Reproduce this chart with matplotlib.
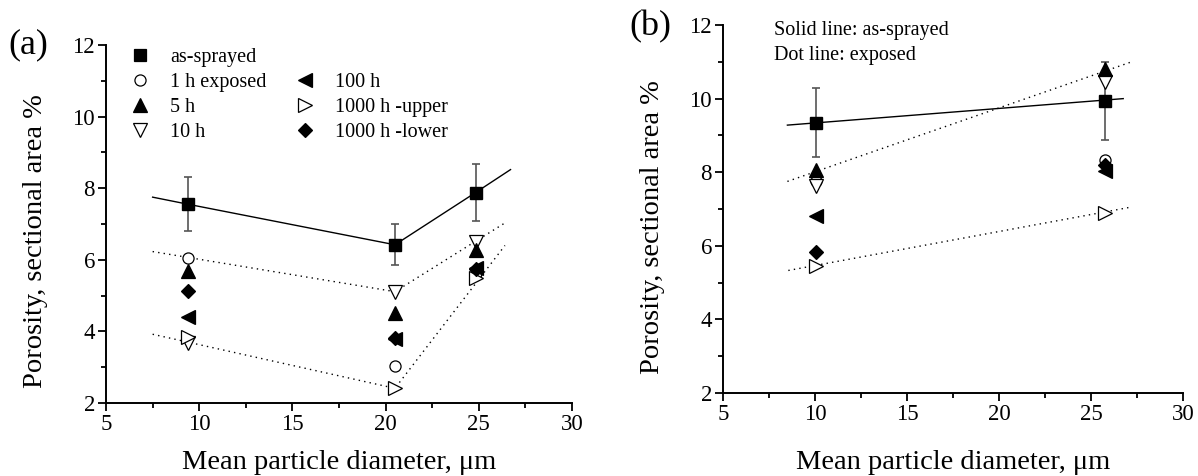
import matplotlib
matplotlib.use("Agg")
import matplotlib.pyplot as plt
from matplotlib.lines import Line2D

plt.rcParams['font.family'] = ['Liberation Serif', 'DejaVu Serif']

# ---- panel (a) data ----
a_x = [9.42, 20.5, 24.83]
a_sprayed = [7.55, 6.42, 7.88]
a_sprayed_err = [0.75, 0.57, 0.80]
a_1h = [6.05, 3.03, 5.62]
a_5h = [5.70, 4.50, 6.27]
a_10h = [3.67, 5.11, 6.50]
a_100h = [4.39, 3.80, 5.78]
a_1000u = [3.85, 2.41, 5.48]
a_1000l = [5.13, 3.81, 5.73]

a_solid_x = [7.5, 9.42, 20.5, 24.83, 26.7]
a_solid_y = [7.75, 7.55, 6.42, 7.88, 8.52]
a_dot1_x = [7.5, 20.5, 26.4]
a_dot1_y = [6.23, 5.11, 7.03]
a_dot2_x = [7.5, 20.5, 26.4]
a_dot2_y = [3.92, 2.41, 6.40]

# ---- panel (b) data ----
b_x = [10.07, 25.74]
b_sprayed = [9.35, 9.94]
b_sprayed_err = [0.93, 1.06]
b_1h = [7.75, 8.32]
b_5h = [8.06, 10.81]
b_10h = [7.62, 10.46]
b_100h = [6.80, 8.03]
b_1000u = [5.44, 6.89]
b_1000l = [5.82, 8.20]

b_solid_x = [8.5, 26.75]
b_solid_y = [9.28, 10.00]
b_dot1_x = [8.5, 27.15]
b_dot1_y = [7.75, 10.99]
b_dot2_x = [8.55, 27.05]
b_dot2_y = [5.33, 7.04]

labels = ['as-sprayed', '1 h exposed', '5 h', '10 h',
          '100 h', '1000 h -upper', '1000 h -lower']
xlab = 'Mean particle diameter, \u03bcm'
ylab = 'Porosity, sectional area %'

styles = {
    '1h': dict(marker='o', mfc='white', ms=8),
    '5h': dict(marker='^', mfc='black', ms=9.5),
    '10h': dict(marker='v', mfc='white', ms=9.5),
    '100h': dict(marker='<', mfc='black', ms=9.5),
    '1000u': dict(marker='>', mfc='white', ms=9.5),
    '1000l': dict(marker='D', mfc='black', ms=7.5),
}


def style_axes(ax):
    ax.set_xlim(5, 30)
    ax.set_ylim(2, 12)
    ax.set_xticks([5, 10, 15, 20, 25, 30])
    ax.set_xticks([7.5, 12.5, 17.5, 22.5, 27.5], minor=True)
    ax.set_yticks([2, 4, 6, 8, 10, 12])
    ax.set_yticks([3, 5, 7, 9, 11], minor=True)
    for s in ['top', 'right']:
        ax.spines[s].set_visible(False)
    for s in ['left', 'bottom']:
        ax.spines[s].set_linewidth(1.4)
    ax.tick_params(which='major', direction='out', length=6, width=1.3,
                   labelsize=16.5, pad=2)
    ax.tick_params(which='minor', direction='out', length=3.5, width=1.3)


def draw(ax, x, sprayed, err, h1, h5, h10, h100, hu, hl,
         sx, sy, d1x, d1y, d2x, d2y):
    ax.plot(sx, sy, color='black', lw=1.0, zorder=2)
    ax.plot(d1x, d1y, color='black', lw=1.0, ls=(0, (1, 3)), zorder=2)
    ax.plot(d2x, d2y, color='black', lw=1.0, ls=(0, (1, 3)), zorder=2)
    ax.errorbar(x, sprayed, yerr=err, fmt='none', ecolor='#555555',
                elinewidth=1.2, capsize=3, capthick=1.2, zorder=3)
    ax.plot(x, sprayed, ls='none', marker='s', color='black', ms=8, zorder=5)
    for key, vals in [('1h', h1), ('10h', h10), ('5h', h5), ('100h', h100),
                      ('1000u', hu), ('1000l', hl)]:
        ax.plot(x, vals, ls='none', mec='black', mew=0.9, zorder=4,
                **styles[key])


fig = plt.figure(figsize=(11.98, 4.76), dpi=100)
ax1 = fig.add_axes([0.0885, 0.1534, 0.389, 0.752])
ax2 = fig.add_axes([0.6035, 0.1744, 0.384, 0.773])

for ax in (ax1, ax2):
    style_axes(ax)

draw(ax1, a_x, a_sprayed, a_sprayed_err, a_1h, a_5h, a_10h, a_100h,
     a_1000u, a_1000l, a_solid_x, a_solid_y, a_dot1_x, a_dot1_y,
     a_dot2_x, a_dot2_y)
draw(ax2, b_x, b_sprayed, b_sprayed_err, b_1h, b_5h, b_10h, b_100h,
     b_1000u, b_1000l, b_solid_x, b_solid_y, b_dot1_x, b_dot1_y,
     b_dot2_x, b_dot2_y)


# legend in panel (a), two columns with an empty slot on top of column 2
def h(**kw):
    return Line2D([], [], ls='none', mec='black', mew=0.9, **kw)


handles = [h(marker='s', color='black', ms=8),
           h(**styles['1h']), h(**styles['5h']), h(**styles['10h']),
           Line2D([], [], ls='none'),
           h(**styles['100h']), h(**styles['1000u']), h(**styles['1000l'])]
leg_labels = labels[:4] + [''] + labels[4:]
ax1.legend(handles, leg_labels, ncol=2, loc='upper left',
           bbox_to_anchor=(0.049, 0.992), frameon=False, fontsize=14.5,
           handlelength=1.1, handletextpad=0.95, labelspacing=0.29,
           columnspacing=1.35, borderpad=0, borderaxespad=0, numpoints=1)

ax2.text(0.111, 0.985, 'Solid line: as-sprayed', transform=ax2.transAxes,
         fontsize=14.5, va='center', ha='left')
ax2.text(0.111, 0.917, 'Dot line: exposed', transform=ax2.transAxes,
         fontsize=14.5, va='center', ha='left')

ax1.set_xlabel(xlab, fontsize=20.5)
ax1.set_ylabel(ylab, fontsize=20.5)
ax2.set_xlabel(xlab, fontsize=20.5)
ax2.set_ylabel(ylab, fontsize=20.5)
ax1.xaxis.set_label_coords(0.5, -0.13)
ax2.xaxis.set_label_coords(0.5, -0.155)
ax1.yaxis.set_label_coords(-0.125, 0.453)
ax2.yaxis.set_label_coords(-0.125, 0.451)

fig.text(0.0234, 0.905, '(a)', fontsize=26, ha='center', va='center')
fig.text(0.5426, 0.943, '(b)', fontsize=26, ha='center', va='center')

fig.savefig('out.png', dpi=100)
